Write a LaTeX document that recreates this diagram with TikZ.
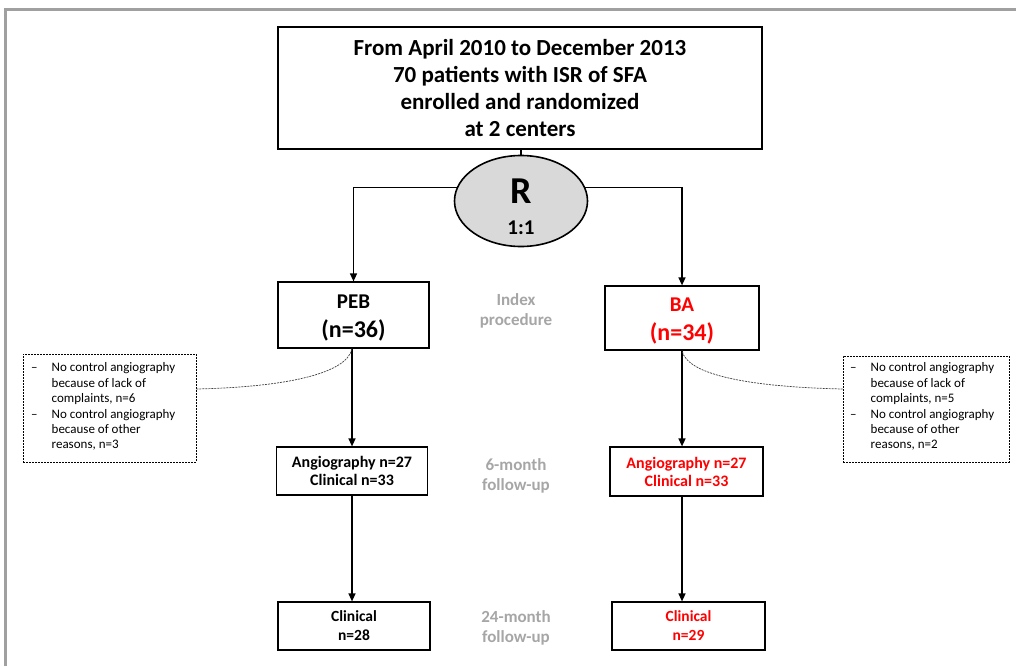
\documentclass[tikz,border=0pt]{standalone}
\usepackage{fontspec}
\setmainfont{Carlito}
\usetikzlibrary{arrows.meta,shapes.geometric}
\definecolor{frame}{HTML}{A0A0A0}
\definecolor{lab}{HTML}{A6A6A6}
\definecolor{ell}{HTML}{D9D9D9}
\definecolor{rd}{HTML}{FF0000}
\tikzset{
  box/.style={draw=black, line width=1.2pt, inner sep=0pt, align=center, font=\bfseries},
  note/.style={draw=black, dash pattern=on 2pt off 1pt, line width=0.7pt, inner sep=0pt},
  arr/.style={line width=1.4pt, -{Triangle[length=8pt,width=7pt]}},
  ln/.style={line width=1.4pt},
  curve/.style={dash pattern=on 2pt off 1pt, line width=0.7pt, draw=black!75},
  lbl/.style={text=lab, align=center, font=\bfseries\fontsize{17}{20}\selectfont},
  ntext/.style={anchor=north west, inner sep=0pt, font=\fontsize{13}{15.4}\selectfont},
}
\begin{document}
\begin{tikzpicture}[x=1pt,y=-1pt]
\useasboundingbox (0,0) rectangle (1016,666);
% frame
\draw[frame, line width=3pt] (5,666) -- (5,10) -- (1016,10);
% top box
\node[box, minimum width=484pt, minimum height=122pt, line width=1.6pt,
      font=\bfseries\fontsize{23}{27}\selectfont] (top) at (520,88)
  {From April 2010 to December 2013\\70 patients with ISR of SFA\\enrolled and randomized\\at 2 centers};
% ellipse
\node[draw, ellipse, fill=ell, line width=1.6pt, minimum width=133pt, minimum height=91pt, inner sep=0pt] (R) at (521,201) {};
\node[font=\bfseries\fontsize{38}{38}\selectfont] (Rt) at (521,191) {R};
\node[font=\bfseries\fontsize{21}{21}\selectfont] (Rr) at (521,228) {1:1};
\draw[ln] (top.south -| R.north) -- (R.north);
% arms
\node[box, minimum width=151pt, minimum height=66pt] (peb) at (353.5,315) {};
\node[font=\bfseries\fontsize{21}{21}\selectfont] (pebt) at (353.5,302) {PEB};
\node[font=\bfseries\fontsize{24}{24}\selectfont] (pebn) at (353.5,330) {(n=36)};
\node[box, minimum width=154pt, minimum height=64pt] (ba) at (682,318) {};
\node[text=rd, font=\bfseries\fontsize{21}{21}\selectfont] (bat) at (682,305) {BA};
\node[text=rd, font=\bfseries\fontsize{24}{24}\selectfont] (ban) at (682,333) {(n=34)};
\draw[arr] (R.168) -| (peb.north);
\draw[arr] (R.12) -| (ba.north);
\node[lbl] (l1) at (516,311) {Index\\procedure};
% 6-month
\node[box, minimum width=151pt, minimum height=48pt, font=\bfseries\fontsize{16}{18}\selectfont] (m6l) at (352,471)
  {Angiography n=27\\Clinical n=33};
\node[box, minimum width=153pt, minimum height=49pt, text=rd, font=\bfseries\fontsize{16}{18}\selectfont] (m6r) at (686.5,471.5)
  {Angiography n=27\\Clinical n=33};
\node[lbl] (l2) at (516,476) {6-month\\follow-up};
\draw[arr] (peb.south -| m6l.north) -- (m6l.north);
\draw[arr] (ba.south) -- (ba.south |- m6r.north);
% 24-month
\node[box, minimum width=152pt, minimum height=48pt, font=\bfseries\fontsize{15.5}{19}\selectfont] (m24l) at (354,626)
  {Clinical\\n=28};
\node[box, minimum width=153pt, minimum height=48pt, text=rd, font=\bfseries\fontsize{15.5}{19}\selectfont] (m24r) at (688.5,626)
  {Clinical\\n=29};
\node[lbl] (l3) at (516,628) {24-month\\follow-up};
\draw[arr] (m6l.south) -- (m6l.south |- m24l.north);
\draw[arr] (ba.south |- m6r.south) -- (ba.south |- m24r.north);
% notes
\node[note, minimum width=173pt, minimum height=108pt] (nl) at (109.5,408) {};
\node[ntext] (nlt) at (31,361)
  {\begin{tabular}{@{}l@{\hspace{14pt}}l@{}}–&No control angiography\\&because of lack of\\&complaints, n=6\\–&No control angiography\\&because of other\\&reasons, n=3\end{tabular}};
\node[note, minimum width=166pt, minimum height=106pt] (nr) at (926,409) {};
\node[ntext] (nrt) at (850,361)
  {\begin{tabular}{@{}l@{\hspace{14pt}}l@{}}–&No control angiography\\&because of lack of\\&complaints, n=5\\–&No control angiography\\&because of other\\&reasons, n=2\end{tabular}};
\coordinate (cl) at (peb.south -| m6l.north);
\coordinate (cr) at (ba.south);
\draw[curve] ([yshift=19pt]nl.east) .. controls +(90,-2) and +(-5,25) .. (cl);
\draw[curve] ([yshift=20pt]nr.west) .. controls +(-90,-2) and +(5,25) .. (cr);
\end{tikzpicture}
\end{document}
